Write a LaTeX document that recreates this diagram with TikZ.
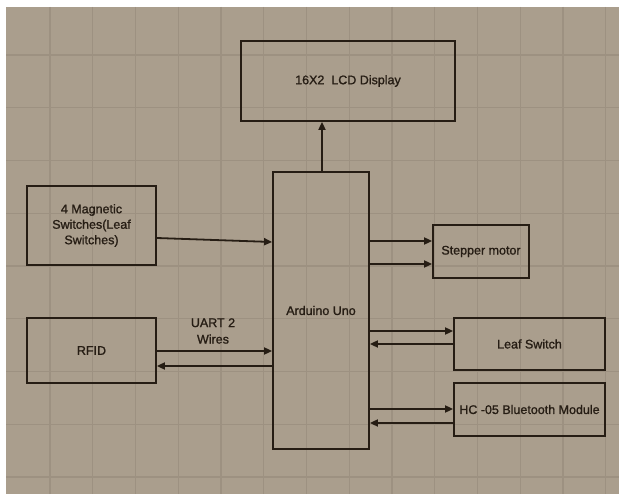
\documentclass[tikz,border=0pt]{standalone}
\usepackage{fontspec}
\setmainfont{Liberation Sans}[FakeBold=1.2]
\usetikzlibrary{arrows.meta,positioning}

\definecolor{paper}{RGB}{170,158,141}
\definecolor{gridcol}{RGB}{157,145,129}
\definecolor{ink}{RGB}{38,29,20}

\begin{document}
\begin{tikzpicture}[
                x=1pt, y=-1pt,
                blk/.style={rectangle,draw=ink,line width=1.8pt,inner sep=2pt,
                    text=ink,font=\fontsize{12.5}{15.5}\selectfont,align=center},
                wire/.style={draw=ink,line width=1.8pt,-{Triangle[length=8pt,width=7pt]}},
                gridline/.style={draw=gridcol,line width=1.4pt}
            ]
                \useasboundingbox (0,0) rectangle (619,494);
                \fill[white] (0,0) rectangle (619,494);
                \fill[paper] (6,7) rectangle (619,494);
                % grid
                \foreach \gx in {0,...,13}
                    \draw[gridline] ({50+42.75*\gx},7) -- ({50+42.75*\gx},494);
                \foreach \gy in {0,...,8}
                    \draw[gridline] (6,{55+52.75*\gy}) -- (619,{55+52.75*\gy});

                \node (lcd)  [blk,minimum width=214pt,minimum height=80pt]  at (348,81)    {16X2\ \ LCD Display};
                \node (ard)  [blk,minimum width=96pt,minimum height=277pt]  at (321,310.5) {Arduino Uno};
                \node (mag)  [blk,minimum width=129pt,minimum height=79pt]  at (91.5,225.5) {4 Magnetic\\Switches(Leaf\\Switches)};
                \node (rfid) [blk,minimum width=129pt,minimum height=65pt]  at (91.5,350.5) {RFID};
                \node (step) [blk,minimum width=96pt,minimum height=53pt]   at (481,251.5) {Stepper motor};
                \node (leaf) [blk,minimum width=151pt,minimum height=52pt]  at (529.5,344) {Leaf Switch};
                \node (hc)   [blk,minimum width=151pt,minimum height=53pt,inner sep=0pt] at (529.5,409.5) {HC -05 Bluetooth Module};
                \node (uart) [text=ink,font=\fontsize{12.5}{16.5}\selectfont,align=center] at (213,331) {UART 2\\Wires};

                \draw[wire] (ard.north -| 322,0) -- (lcd.south -| 322,0);
                \draw[wire] (mag.east |- 0,238) -- (ard.west |- 0,242);
                \draw[wire] (rfid.east |- 0,351) -- (ard.west |- 0,351);
                \draw[wire] (ard.west |- 0,366) -- (rfid.east |- 0,366);
                \draw[wire] (ard.east |- 0,241) -- (step.west |- 0,241);
                \draw[wire] (ard.east |- 0,264) -- (step.west |- 0,264);
                \draw[wire] (ard.east |- 0,331) -- (leaf.west |- 0,331);
                \draw[wire] (leaf.west |- 0,344) -- (ard.east |- 0,344);
                \draw[wire] (ard.east |- 0,409) -- (hc.west |- 0,409);
                \draw[wire] (hc.west |- 0,423) -- (ard.east |- 0,423);
            \end{tikzpicture}
\end{document}
